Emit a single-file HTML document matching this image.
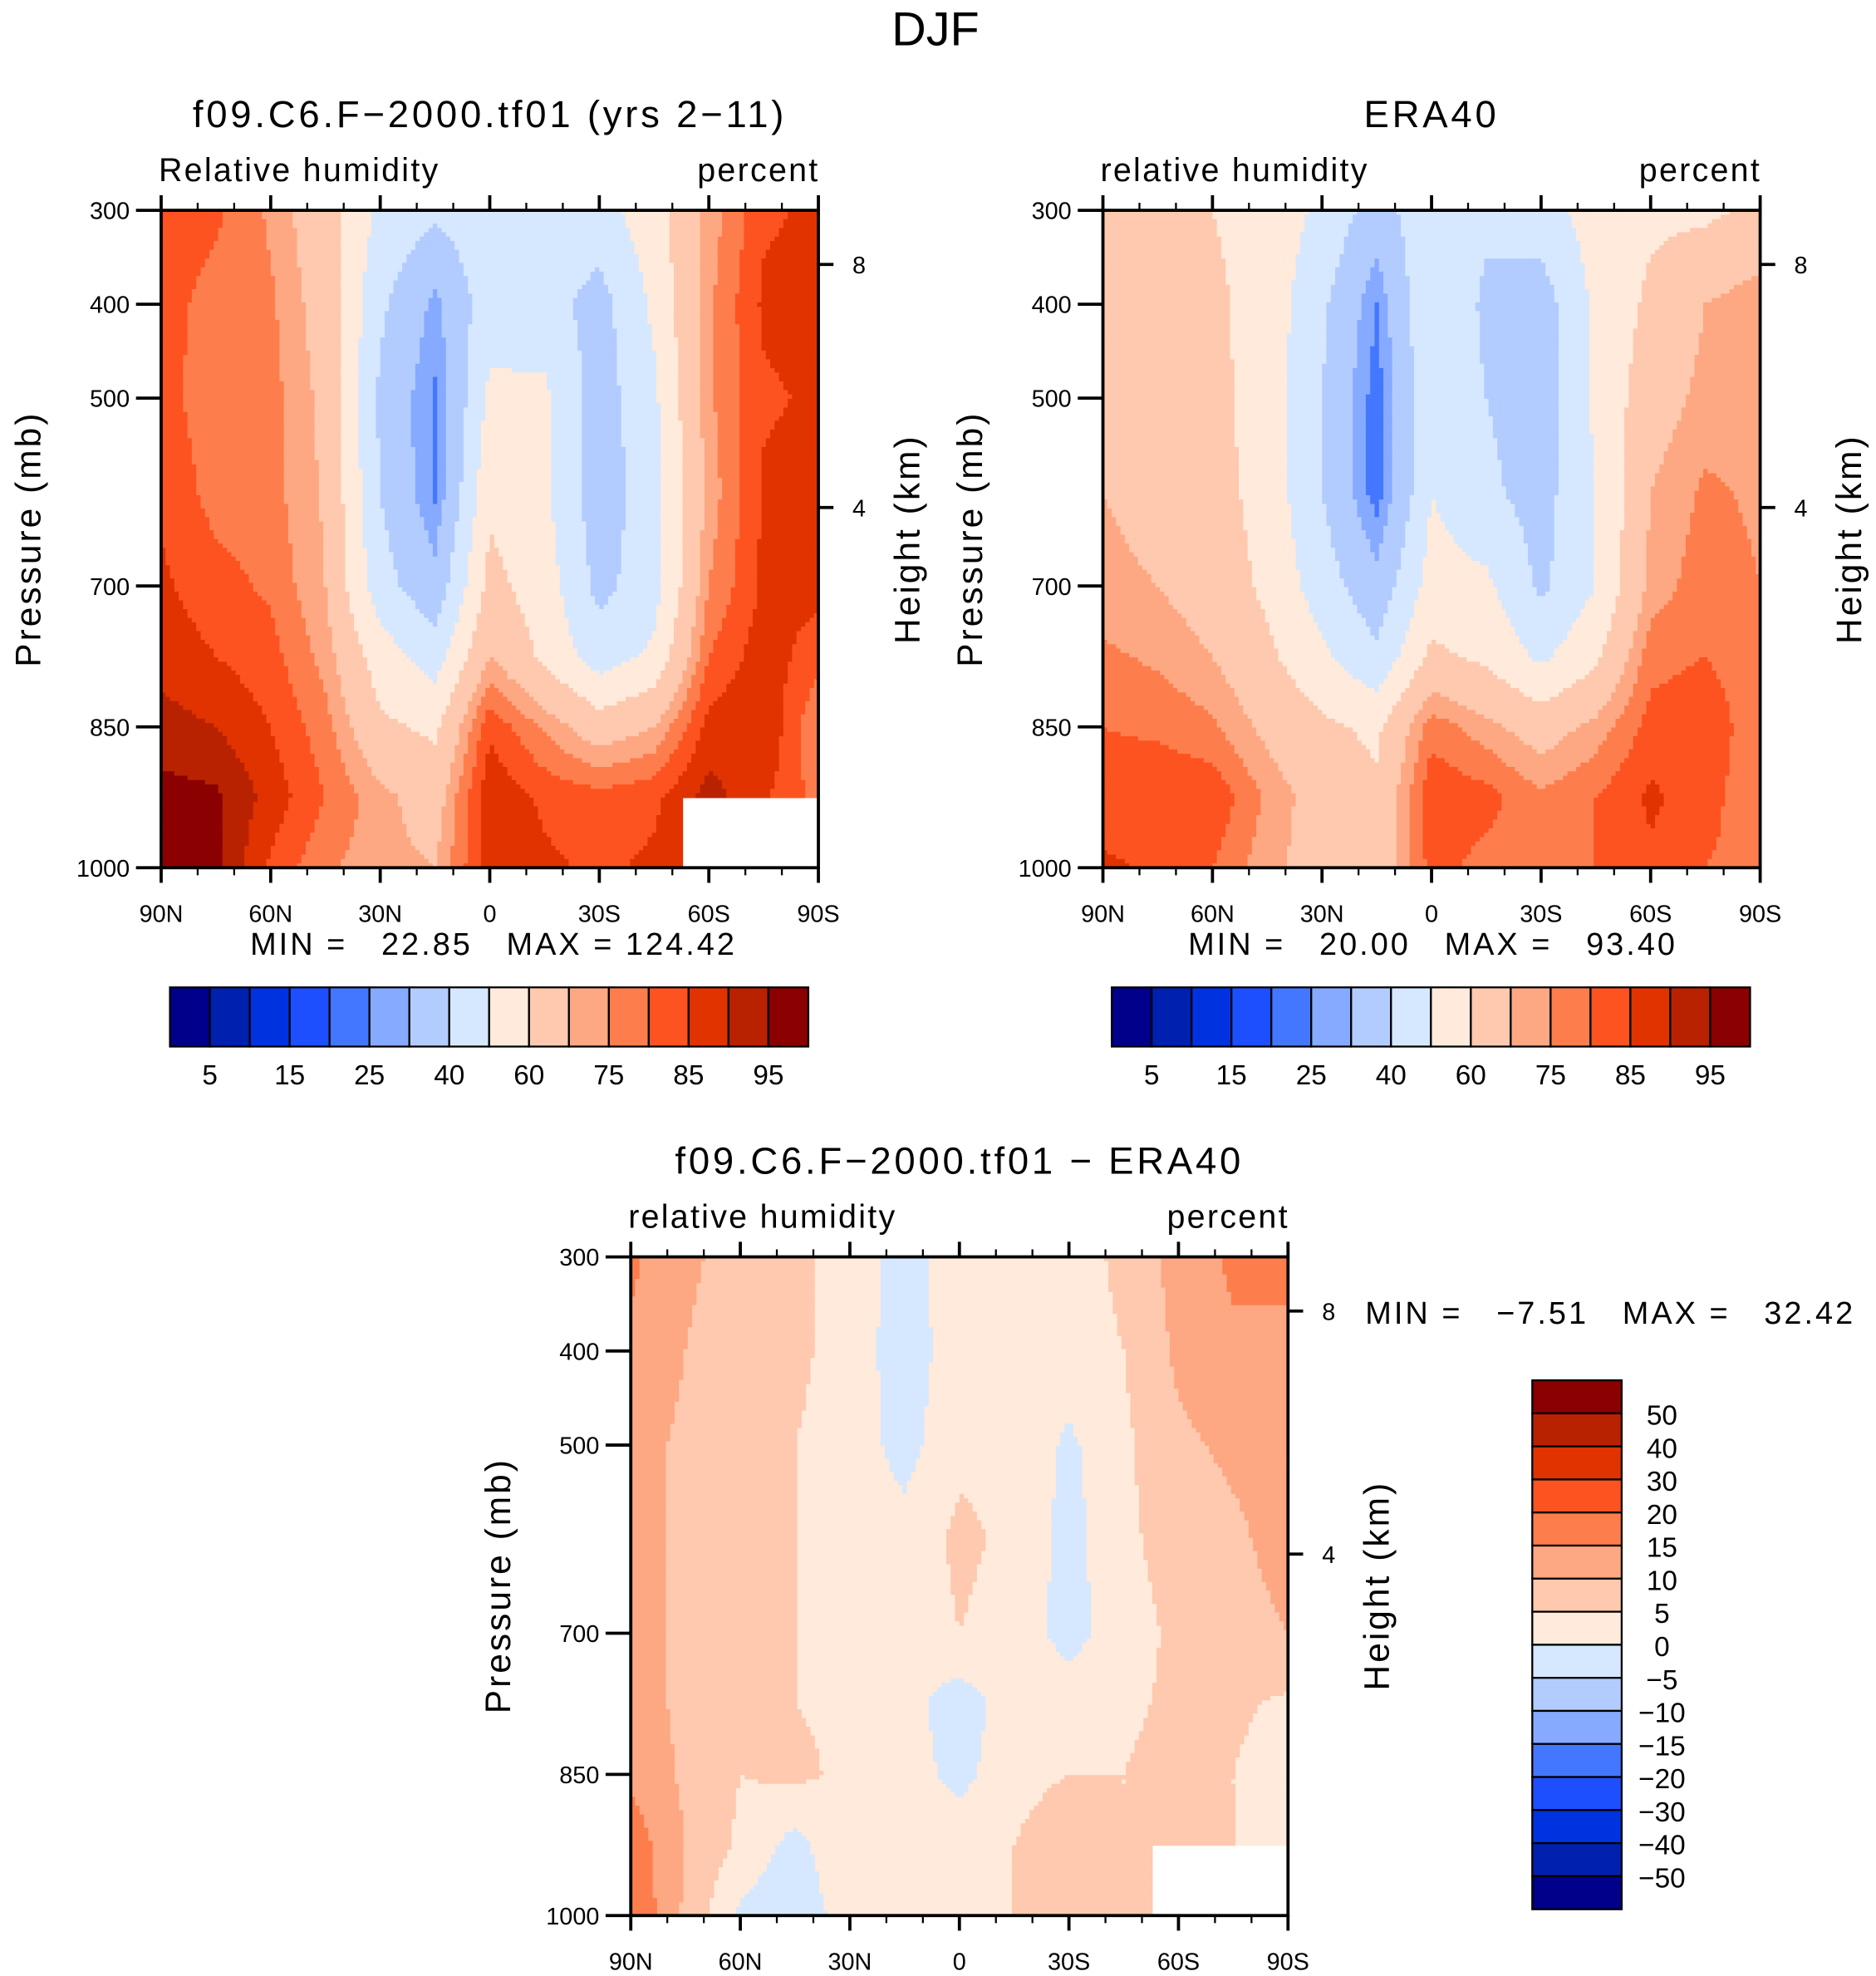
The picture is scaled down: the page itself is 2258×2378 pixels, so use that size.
<!DOCTYPE html>
<html><head><meta charset="utf-8"><style>
html,body{margin:0;padding:0;background:#fff;}
svg{display:block;font-family:"Liberation Sans",sans-serif;}
text{fill:#000;}
</style></head><body>
<svg id="chart" width="2258" height="2378" viewBox="0 0 1490 1569" preserveAspectRatio="none" xmlns="http://www.w3.org/2000/svg">
<text x="743" y="36" font-size="38" text-anchor="middle">DJF</text>
<g id="layer"></g>
</svg>
<script>
const lats = [90,75,60,45,30,15,0,-15,-30,-45,-60,-75,-90];
const plevs = [300,400,500,600,700,775,850,925,1000];
const rhModel = [
 [83,81,74,64,48,42,46,48,46,56,72,84,86],
 [82,78,76,66,42,28,46,44,36,52,74,86,88],
 [82,77,77,68,38,24,52,52,35,48,74,84,86],
 [84,78,77,69,40,24,58,52,34,46,72,86,88],
 [86,82,79,70,44,33,63,55,37,46,75,86,87],
 [88,85,82,73,55,45,70,58,45,52,80,88,82],
 [92,90,85,77,62,58,84,74,65,70,87,90,75],
 [97,96,88,80,72,66,89,84,82,84,92,86,78],
 [97,96,84,76,72,70,88,86,84,86,null,null,null]
];
const rhEra = [
 [65,62,60,56,48,35,48,42,45,55,58,58,62],
 [68,65,62,56,42,25,50,38,35,52,62,70,74],
 [68,66,63,55,40,22,48,40,35,52,66,72,72],
 [70,67,64,56,40,22,50,42,36,50,70,76,74],
 [72,70,66,58,45,33,54,52,38,50,72,78,75],
 [76,74,70,62,52,42,62,58,48,58,78,80,76],
 [80,79,76,68,62,58,78,72,66,72,82,84,76],
 [82,84,84,74,66,62,84,82,76,80,86,82,76],
 [86,84,80,72,66,64,82,78,76,80,84,80,78]
];
const rhDiff = [
 [16,11,8,6,3,-2,3,5,3,6,12,16,18],
 [14,10,7,6,3,-3,3,4,3,5,11,14,12],
 [12,9,7,5,3,-2,4,4,-1,4,9,11,12],
 [12,9,7,5,2,2,6,4,-2,4,7,9,12],
 [12,9,6,5,2,2,5,3,-2,3,6,8,10],
 [12,9,6,5,4,2,-3,3,3,4,6,6,4],
 [14,9,5,6,4,3,-2,4,5,5,7,5,2],
 [18,10,4,-2,5,4,4,5,7,5,7,5,2],
 [20,9,-1,-4,3,3,3,5,5,5,null,null,null]
];
const rhLevels = [5,10,15,20,25,30,40,50,60,70,75,80,85,90,95];
const rhLabels = ["5","15","25","40","60","75","85","95"];
const diffLevels = [-50,-40,-30,-20,-15,-10,-5,0,5,10,15,20,30,40,50];
const diffLabels = ["50","40","30","20","15","10","5","0","\u22125","\u221210","\u221215","\u221220","\u221230","\u221240","\u221250"];
const palette = ["#00008b","#0020b0","#0033e0","#1e4fff","#4477ff","#86aaff","#b3ccff","#d6e8ff","#ffeadb","#fec9ae","#fda882","#fd7e4c","#fd5320","#e13300","#b92200","#8b0000"];
const latTickLabels = ["90N","60N","30N","0","30S","60S","90S"];
const pTicks = [300,400,500,700,850,1000];
const hTicks = [8,4];

const NS="http://www.w3.org/2000/svg";
const layer=document.getElementById('layer');
function el(tag,attrs,parent){const e=document.createElementNS(NS,tag);for(const k in attrs)e.setAttribute(k,attrs[k]);(parent||layer).appendChild(e);return e;}
function txt(s,attrs,parent){const e=el('text',attrs,parent);e.textContent=s;return e;}

function binOf(v,levels){let b=0;for(const l of levels){if(v>=l)b++;}return b;}
function interp(data,lat,p){
  let k=0;while(k<plevs.length-2&&p>plevs[k+1])k++;
  const t=(p-plevs[k])/(plevs[k+1]-plevs[k]);
  const fx=(90-lat)/15;let c=Math.min(Math.floor(fx),lats.length-2);const s=fx-c;
  const cn=s<0.5?c:c+1;
  if(data[k][cn]==null||data[k+1][cn]==null)return null;
  const pick=(r,i)=>{const v=data[r][i];return v==null?data[r][cn]:v;};
  const a=pick(k,c),b=pick(k,c+1),d=pick(k+1,c),e=pick(k+1,c+1);
  return (a*(1-s)+b*s)*(1-t)+(d*(1-s)+e*s)*t;
}

function panel(x0,y0,w,h,data,levels,name,title,sub1,sub2){
  const g=el('g',{});
  
  
  const nx=150,ny=150,cw=w/nx,ch=h/ny;
  for(let j=0;j<ny;j++){
    const p=300+(j+0.5)/ny*700;
    let runStart=0,runCol=null;
    const flush=(end)=>{if(runCol){const r=el('rect',{x:x0+runStart*cw,y:y0+j*ch,width:(end-runStart)*cw+0.4,height:ch+0.4,fill:runCol},g);
        
        }};
    for(let i=0;i<nx;i++){
      const lat=90-(i+0.5)/nx*180;
      const v=interp(data,lat,p);
      const col=v==null?null:palette[binOf(v,levels)];
      if(col!==runCol){flush(i);runStart=i;runCol=col;}
    }
    flush(nx);
  }
  const xOf=lat=>x0+(90-lat)/180*w;
  const yOf=pp=>y0+(pp-300)/700*h;
  const fr=el('rect',{x:x0,y:y0,width:w,height:h,fill:'none',stroke:'#000','stroke-width':2.5},g);
  
  
  for(let lat=90;lat>=-90;lat-=10){
    const maj=lat%30===0;const x=xOf(lat);const L=maj?12:6;
    el('line',{x1:x,y1:y0,x2:x,y2:y0-L,stroke:'#000','stroke-width':maj?2.5:1.5},g);
    el('line',{x1:x,y1:y0+h,x2:x,y2:y0+h+L,stroke:'#000','stroke-width':maj?2.5:1.5},g);
  }
  latTickLabels.forEach((s,i)=>{const t=txt(s,{x:xOf(90-i*30),y:y0+h+43,'font-size':19,'text-anchor':'middle'},g);
    
    });
  pTicks.forEach(pp=>{const y=yOf(pp);el('line',{x1:x0-20,y1:y,x2:x0,y2:y,stroke:'#000','stroke-width':2.5},g);
    const t=txt(String(pp),{x:x0-25,y:y+7,'font-size':19,'text-anchor':'end'},g);
    
    });
  const hY={8:43,4:236};
  hTicks.forEach(hh=>{const y=y0+hY[hh];el('line',{x1:x0+w,y1:y,x2:x0+w+12,y2:y,stroke:'#000','stroke-width':2.5},g);
    const t=txt(String(hh),{x:x0+w+27,y:y+7,'font-size':19,'text-anchor':'start'},g);
    
    });
  let t=txt('Pressure (mb)',{x:0,y:0,'font-size':28,'text-anchor':'middle','letter-spacing':'2',transform:`translate(${x0-96},${y0+261}) rotate(-90)`},g);
  
  
  t=txt('Height (km)',{x:0,y:0,'font-size':28,'text-anchor':'middle','letter-spacing':'2',transform:`translate(${x0+w+80},${y0+261}) rotate(-90)`},g);
  
  
  t=txt(title,{x:x0+w/2,y:y0-66,'font-size':30,'text-anchor':'middle','letter-spacing':'2.5'},g);
  
  
  t=txt(sub1,{x:x0-2,y:y0-23,'font-size':26,'text-anchor':'start','letter-spacing':'1.5'},g);
  
  
  t=txt(sub2,{x:x0+w+1,y:y0-23,'font-size':26,'text-anchor':'end','letter-spacing':'1.5'},g);
  
  
  return g;
}

function hbar(x0,y0,w,h,name){
  const g=el('g',{});
  
  
  const bw=w/palette.length;
  palette.forEach((c,i)=>{const r=el('rect',{x:x0+i*bw,y:y0,width:bw,height:h,fill:c,stroke:'#000','stroke-width':1.5},g);
    
    });
  rhLabels.forEach((s,i)=>{const t=txt(s,{x:x0+(2*i+1)*bw,y:y0+h+30,'font-size':22,'text-anchor':'middle'},g);
    
    });
}
function minmax(x,y,s,name){const t=txt(s,{x:x,y:y,'font-size':25,'text-anchor':'middle','letter-spacing':'2'});
  
  
  t.setAttribute('style','white-space:pre');}

panel(128,167,522,522,rhModel,rhLevels,'model-rh-panel','f09.C6.F\u22122000.tf01 (yrs 2\u221211)','Relative humidity','percent');
panel(876,167,522,522,rhEra,rhLevels,'era40-rh-panel','ERA40','relative humidity','percent');
panel(501,998,522,523,rhDiff,diffLevels,'difference-panel','f09.C6.F\u22122000.tf01 \u2212 ERA40','relative humidity','percent');
minmax(392,758,'MIN =   22.85   MAX = 124.42','model-min-max');
minmax(1138,758,'MIN =   20.00   MAX =   93.40','era40-min-max');
minmax(1279,1051,'MIN =   \u22127.51   MAX =   32.42','diff-min-max');
hbar(135,784,507,47,'model-colorbar');
hbar(883,784,507,47,'era40-colorbar');
(function(){
  const g=el('g',{});
  
  
  const x0=1217,y0=1096,w=71,bh=420/16;
  const rev=palette.slice().reverse();
  rev.forEach((c,i)=>{const r=el('rect',{x:x0,y:y0+i*bh,width:w,height:bh,fill:c,stroke:'#000','stroke-width':1.5},g);
    
    });
  diffLabels.forEach((s,i)=>{const t=txt(s,{x:1320,y:y0+(i+1)*bh+9,'font-size':22,'text-anchor':'middle'},g);
    
    });
})();
</script>
</body></html>
